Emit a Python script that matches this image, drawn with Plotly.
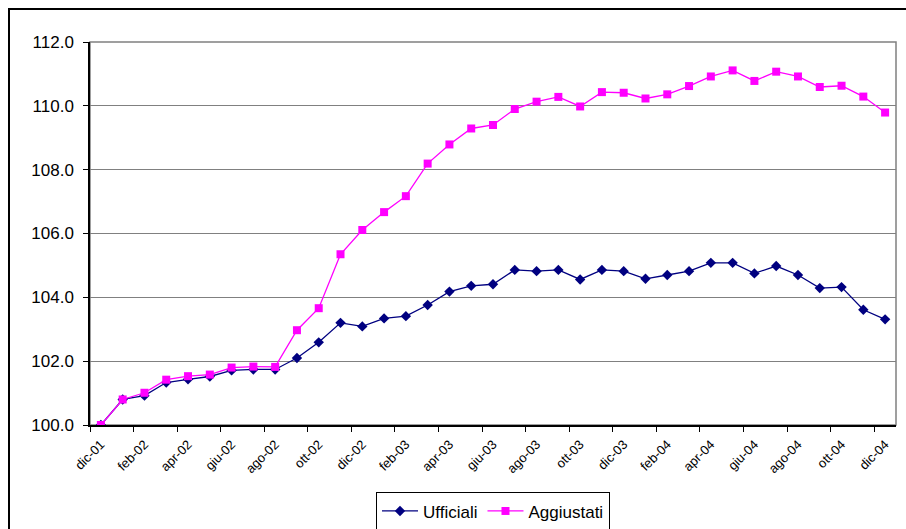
import plotly.graph_objects as go

# Monthly index series, Dec 2001 = 100
months = [
    "dic-01", "gen-02", "feb-02", "mar-02", "apr-02", "mag-02", "giu-02", "lug-02",
    "ago-02", "set-02", "ott-02", "nov-02", "dic-02", "gen-03", "feb-03", "mar-03",
    "apr-03", "mag-03", "giu-03", "lug-03", "ago-03", "set-03", "ott-03", "nov-03",
    "dic-03", "gen-04", "feb-04", "mar-04", "apr-04", "mag-04", "giu-04", "lug-04",
    "ago-04", "set-04", "ott-04", "nov-04", "dic-04",
]

ufficiali = [
    100.00, 100.80, 100.92, 101.33, 101.43, 101.52, 101.71, 101.74,
    101.74, 102.10, 102.59, 103.20, 103.09, 103.34, 103.41, 103.76,
    104.18, 104.36, 104.41, 104.86, 104.82, 104.86, 104.56, 104.86,
    104.82, 104.58, 104.70, 104.82, 105.08, 105.08, 104.75, 104.98,
    104.70, 104.29, 104.32, 103.61, 103.31,
]

aggiustati = [
    100.00, 100.80, 101.01, 101.42, 101.53, 101.58, 101.80, 101.83,
    101.82, 102.97, 103.66, 105.35, 106.11, 106.67, 107.17, 108.19,
    108.79, 109.29, 109.40, 109.90, 110.13, 110.28, 109.98, 110.43,
    110.41, 110.23, 110.36, 110.62, 110.92, 111.11, 110.78, 111.07,
    110.92, 110.59, 110.63, 110.29, 109.79,
]

y_ticks = [100, 102, 104, 106, 108, 110, 112]

x_idx = list(range(len(months)))
label_idx = x_idx[::2]
label_text = [months[i] for i in label_idx]
boundary_ticks = [i - 0.5 for i in label_idx]

FONT = "Liberation Sans, Arial, sans-serif"

fig = go.Figure()
fig.add_trace(go.Scatter(
    x=x_idx, y=ufficiali, name="Ufficiali", mode="lines+markers",
    line=dict(color="#000080", width=1.3),
    marker=dict(symbol="diamond", size=8, color="#000080"),
))
fig.add_trace(go.Scatter(
    x=x_idx, y=aggiustati, name="Aggiustati", mode="lines+markers",
    line=dict(color="#FF00FF", width=1.3),
    marker=dict(symbol="square", size=8, color="#FF00FF"),
))

fig.update_layout(
    width=906, height=529,
    margin=dict(l=90, r=10, t=42, b=104, autoexpand=False),
    paper_bgcolor="white", plot_bgcolor="white",
    font=dict(family=FONT, color="black"),
    showlegend=True,
    legend=dict(
        orientation="h", x=0.5, xanchor="center", y=-0.176, yanchor="top",
        bordercolor="black", borderwidth=1, bgcolor="white",
        font=dict(size=17, family=FONT), itemwidth=36,
        tracegroupgap=0,
    ),
    shapes=[
        # plot-area frame (top and right sides visible)
        dict(type="rect", xref="paper", yref="paper", x0=0, x1=1, y0=0, y1=1,
             line=dict(color="#808080", width=1.5), layer="below"),
        # outer chart border
        dict(type="rect", xref="paper", yref="paper",
             x0=-81 / 806, x1=1.05, y0=-0.4, y1=1 + 33 / 383,
             line=dict(color="black", width=2), layer="below"),
    ],
)

fig.update_xaxes(
    range=[-0.5, len(months) - 0.5],
    tickmode="array", tickvals=label_idx, ticktext=label_text,
    tickangle=-45, tickfont=dict(size=13, family=FONT),
    ticks="", ticklabelstandoff=5, showgrid=False, zeroline=False,
    automargin=False,
    showline=True, linecolor="black", linewidth=1.5,
    minor=dict(tickmode="array", tickvals=boundary_ticks, ticks="outside",
               ticklen=5, tickcolor="black", tickwidth=1, showgrid=False),
)

fig.update_yaxes(
    range=[100, 112],
    tickmode="array", tickvals=y_ticks, ticktext=[f"{v:.1f}" for v in y_ticks],
    tickfont=dict(size=17, family=FONT),
    ticks="outside", ticklen=5, tickcolor="black",
    ticklabelstandoff=6, automargin=False,
    showgrid=True, gridcolor="#808080", gridwidth=1.2,
    zeroline=False, showline=True, linecolor="black", linewidth=1.5,
)

fig.write_html("out.html")
